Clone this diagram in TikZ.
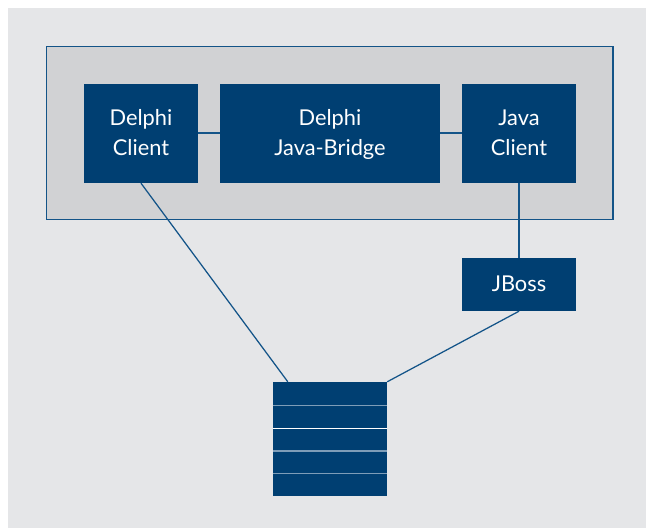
\documentclass[tikz,border=0pt]{standalone}
\usepackage{fontspec}
\setmainfont{Lato}
\usetikzlibrary{calc}
\definecolor{navy}{HTML}{003F72}
\definecolor{pagegray}{HTML}{E5E6E8}
\definecolor{panelgray}{HTML}{D1D2D4}
\definecolor{edgeblue}{HTML}{135488}
\definecolor{slotline}{HTML}{7E9DB8}
\newcommand{\linestrut}{\rule[-7.8pt]{0pt}{30pt}}
\tikzset{
  box/.style={fill=navy,draw=none,text=white,inner sep=0pt,align=center,font=\fontsize{21.8}{30}\selectfont,text width=114pt,minimum width=114pt},
  link/.style={draw=edgeblue,line width=1.25pt},
  slot/.style={draw=slotline,line width=1.25pt},
}
\begin{document}
\begin{tikzpicture}[x=1pt,y=-1pt]
\useasboundingbox (0,0) rectangle (646,528);
\fill[pagegray] (8,8) rectangle (646,528);
\node[fill=panelgray,draw=edgeblue,line width=1.25pt,minimum width=566.5pt,minimum height=172.5pt,inner sep=0pt] (panel) at (329.75,132.9) {};
\node[box,minimum height=99pt] (client) at (141,133.5) {\linestrut Delphi\\\linestrut Client};
\node[box,minimum height=99pt,text width=220pt,minimum width=220pt] (bridge) at (330,133.5) {\linestrut Delphi\\\linestrut Java-Bridge};
\node[box,minimum height=99pt] (java) at (519,133.5) {\linestrut Java\\\linestrut Client};
\node[box,minimum height=53pt] (jboss) at (519,284.5) {\linestrut JBoss};
\node[box,minimum height=114pt] (db) at (330,439) {};
\draw[slot] (db.west |- 0,405.5) -- (db.east |- 0,405.5);
\draw[draw=white,line width=1.1pt] (db.west |- 0,428.5) -- (db.east |- 0,428.5);
\draw[slot] (db.west |- 0,451) -- (db.east |- 0,451);
\draw[slot] (db.west |- 0,473.5) -- (db.east |- 0,473.5);
\coordinate (dbtop) at ($(db.north west)+(15,0)$);
\draw[link] (client.east |- 0,133) -- (bridge.west |- 0,133);
\draw[link] (bridge.east |- 0,133) -- (java.west |- 0,133);
\draw[link] (client.south) -- (dbtop);
\draw[link] (java.south) -- (jboss.north);
\draw[link] (jboss.south) -- (db.north east);
\end{tikzpicture}
\end{document}
